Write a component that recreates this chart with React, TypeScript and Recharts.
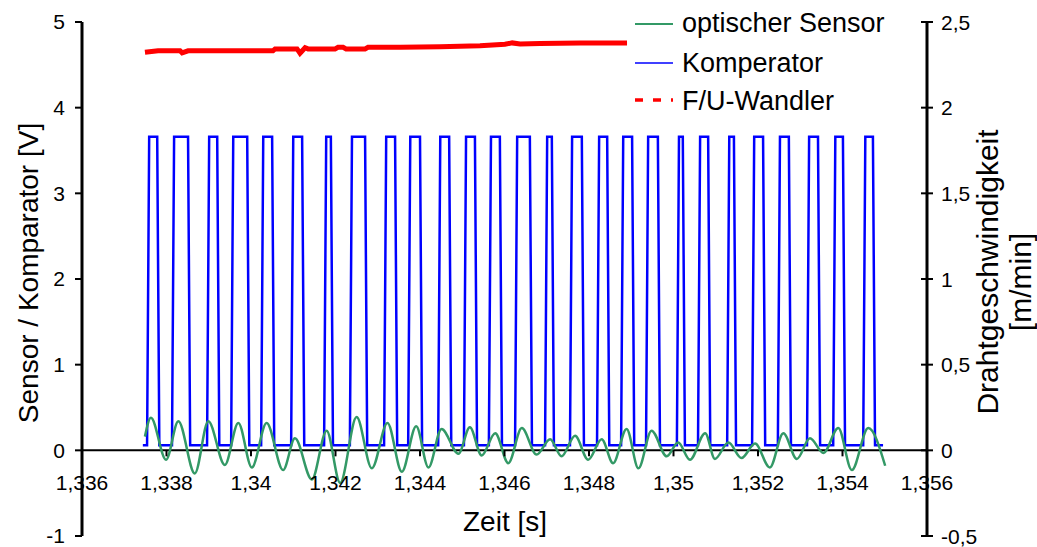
import React from 'react';
import { LineChart, Line, XAxis, YAxis, ReferenceLine, Legend, Label } from 'recharts';

const W = 1037;
const H = 547;
const FONT = "'Liberation Sans', Arial, sans-serif";

// Axis ticks
const timeTicks = [1.336, 1.338, 1.34, 1.342, 1.344, 1.346, 1.348, 1.35, 1.352, 1.354, 1.356];
const voltTicks = [-1, 0, 1, 2, 3, 4, 5];
const speedTicks = [-0.5, 0, 0.5, 1, 1.5, 2, 2.5];
const voltDomain = [-1, 5];
const speedDomain = [-0.5, 2.5];

// Series names
const seriesNames = ['optischer Sensor', 'Komperator', 'F/U-Wandler'];

// optischer Sensor (V) – extrema
const sensorTime = [
  1.33749, 1.33763, 1.33799, 1.33828, 1.33867, 1.33899, 1.33938, 1.3397, 1.34002, 1.34037,
  1.34076, 1.34104, 1.34144, 1.34179, 1.34211, 1.3425, 1.34286, 1.34323, 1.34357, 1.34391,
  1.3442, 1.34451, 1.34491, 1.34518, 1.34546, 1.34578, 1.34609, 1.34641, 1.34676, 1.34708,
  1.34735, 1.34767, 1.34798, 1.3483, 1.34857, 1.34889, 1.34917, 1.34948, 1.34984, 1.35011,
  1.35039, 1.35075, 1.35098, 1.3513, 1.35161, 1.35193, 1.35228, 1.3526, 1.35292, 1.35323,
  1.35355, 1.3539, 1.35422, 1.35461, 1.35501,
];
const sensorValue = [
  0.16, 0.38, -0.11, 0.34, -0.27, 0.34, -0.17, 0.32, -0.2, 0.32,
  -0.23, 0.14, -0.34, 0.23, -0.38, 0.39, -0.21, 0.32, -0.25, 0.28,
  -0.2, 0.25, -0.04, 0.27, -0.06, 0.2, -0.15, 0.26, -0.05, 0.13,
  -0.07, 0.17, -0.11, 0.13, -0.15, 0.25, -0.21, 0.23, -0.07, 0.09,
  -0.11, 0.2, -0.1, 0.09, -0.09, 0.08, -0.2, 0.2, -0.1, 0.14,
  -0.03, 0.26, -0.23, 0.26, -0.18,
];

// Komperator (V) – pulse edges
const komparatorStart = 1.33744;
const komparatorEnd = 1.35496;
const komparatorLow = 0.06;
const komparatorHigh = 3.66;
const komparatorRise = [
  1.33754, 1.33813, 1.33896, 1.33953, 1.34024, 1.34095, 1.34173, 1.34234, 1.34315, 1.34372,
  1.34443, 1.34504, 1.34563, 1.34625, 1.34696, 1.34755, 1.34819, 1.34876, 1.34935, 1.35008,
  1.35058, 1.35127, 1.35186, 1.35247, 1.35316, 1.35378, 1.35449,
];
const komparatorFall = [
  1.33778, 1.33851, 1.3392, 1.33991, 1.3405, 1.34121, 1.34189, 1.3427, 1.34341, 1.344,
  1.34469, 1.3453, 1.34589, 1.3466, 1.34712, 1.34783, 1.34843, 1.34902, 1.34963, 1.35022,
  1.35082, 1.35143, 1.35212, 1.35273, 1.35342, 1.35401, 1.35472,
];
const komparatorEdge = 0.00005;

// F/U-Wandler (m/min)
const wandlerTime = [
  1.33749, 1.3378, 1.33832, 1.33837, 1.33851, 1.34052, 1.34057, 1.34109, 1.34116, 1.34128,
  1.34135, 1.34199, 1.34206, 1.34218, 1.34225, 1.3427, 1.34277, 1.34353, 1.34447, 1.34542,
  1.34601, 1.34618, 1.34637, 1.34684, 1.34779, 1.3489,
];
const wandlerValue = [
  2.323, 2.332, 2.332, 2.32, 2.332, 2.332, 2.343, 2.343, 2.318, 2.35,
  2.343, 2.343, 2.352, 2.352, 2.343, 2.343, 2.352, 2.352, 2.356, 2.362,
  2.37, 2.378, 2.372, 2.375, 2.378, 2.378,
];

const sensorData = sensorTime.map((t, i) => ({ t, v: sensorValue[i] }));
const wandlerData = wandlerTime.map((t, i) => ({ t, v: wandlerValue[i] }));
const komparatorData: { t: number; v: number }[] = [{ t: komparatorStart, v: komparatorLow }];
komparatorRise.forEach((r, i) => {
  komparatorData.push(
    { t: r, v: komparatorLow },
    { t: r + komparatorEdge, v: komparatorHigh },
    { t: komparatorFall[i], v: komparatorHigh },
    { t: komparatorFall[i] + komparatorEdge, v: komparatorLow },
  );
});
komparatorData.push({ t: komparatorEnd, v: komparatorLow });

const fmt = (v: number) => String(Number(v.toFixed(4))).replace('.', ',');

const MARGIN = { top: 22, right: 0, bottom: 0, left: 0 };
const X_AXIS_H = 11;
const PLOT_TOP = MARGIN.top;
const PLOT_BOTTOM = H - MARGIN.bottom - X_AXIS_H;
const zeroY = PLOT_BOTTOM - ((PLOT_BOTTOM - PLOT_TOP) * (0 - voltDomain[0])) / (voltDomain[1] - voltDomain[0]);
const TICK_FS = 21;

const XTick = (props: any) => {
  const { x, payload } = props;
  return (
    <g>
      <line x1={x} x2={x} y1={zeroY} y2={zeroY + 6} stroke="#000" strokeWidth={2} />
      <text x={x} y={zeroY + 40} textAnchor="middle" fontSize={TICK_FS} fontFamily={FONT} fill="#000">
        {fmt(payload.value)}
      </text>
    </g>
  );
};

const RIGHT_TICK = 5;
const RIGHT_MARGIN = 9;
const RightTick = (props: any) => {
  const { x, y, payload } = props;
  const ax = x - RIGHT_TICK - RIGHT_MARGIN;
  return (
    <g>
      <line x1={ax - 6} x2={ax + 6} y1={y} y2={y} stroke="#000" strokeWidth={2} />
      <text x={x} y={y} dy="0.36em" textAnchor="start" fontSize={TICK_FS} fontFamily={FONT} fill="#000">
        {fmt(payload.value)}
      </text>
    </g>
  );
};

const LegendBox = () => (
  <svg width={310} height={120} style={{ display: 'block' }}>
    <line x1={15} x2={53} y1={24} y2={24} stroke="#339966" strokeWidth={2} />
    <line x1={15} x2={53} y1={63} y2={63} stroke="#0000ff" strokeWidth={1.5} />
    <line x1={15} x2={53} y1={100} y2={100} stroke="#ff0000" strokeWidth={3.5} strokeDasharray="8 10" />
    <text x={62} y={32} fontSize={27} fontFamily={FONT} fill="#000">{seriesNames[0]}</text>
    <text x={62} y={72} fontSize={27} fontFamily={FONT} fill="#000">{seriesNames[1]}</text>
    <text x={62} y={110} fontSize={27} fontFamily={FONT} fill="#000">{seriesNames[2]}</text>
  </svg>
);

export default function App() {
  return (
    <div style={{ position: 'absolute', left: 0, top: 0, width: W, height: H, background: '#fff' }}>
      <LineChart width={W} height={H} margin={MARGIN}>
        <XAxis
          dataKey="t"
          type="number"
          domain={[timeTicks[0], timeTicks[timeTicks.length - 1]]}
          ticks={timeTicks}
          allowDataOverflow
          height={X_AXIS_H}
          axisLine={false}
          tickLine={false}
          tickSize={0}
          tickMargin={0}
          tick={<XTick />}
          interval={0}
        >
          <Label
            content={() => (
              <text x={505} y={531} textAnchor="middle" fontSize={28} fontFamily={FONT} fill="#000">
                Zeit [s]
              </text>
            )}
          />
        </XAxis>
        <YAxis
          yAxisId="left"
          domain={voltDomain}
          ticks={voltTicks}
          width={82}
          interval={0}
          axisLine={{ stroke: '#000', strokeWidth: 3 }}
          tickLine={{ stroke: '#000', strokeWidth: 2 }}
          tickSize={7}
          tickMargin={10}
          tick={{ fill: '#000', fontSize: TICK_FS, fontFamily: FONT }}
          tickFormatter={fmt}
        >
          <Label
            content={() => (
              <text
                x={28}
                y={273}
                transform="rotate(-90, 28, 273)"
                textAnchor="middle"
                dominantBaseline="central"
                fontSize={28}
                fontFamily={FONT}
                fill="#000"
              >
                Sensor / Komparator [V]
              </text>
            )}
          />
        </YAxis>
        <YAxis
          yAxisId="right"
          orientation="right"
          domain={speedDomain}
          ticks={speedTicks}
          width={110}
          interval={0}
          axisLine={{ stroke: '#000', strokeWidth: 3 }}
          tickLine={false}
          tickSize={RIGHT_TICK}
          tickMargin={RIGHT_MARGIN}
          tick={<RightTick />}
        >
          <Label
            content={() => (
              <g>
                <text
                  x={987}
                  y={272}
                  transform="rotate(-90, 987, 272)"
                  textAnchor="middle"
                  dominantBaseline="central"
                  fontSize={30}
                  fontFamily={FONT}
                  fill="#000"
                >
                  Drahtgeschwindigkeit
                </text>
                <text
                  x={1020}
                  y={282}
                  transform="rotate(-90, 1020, 282)"
                  textAnchor="middle"
                  dominantBaseline="central"
                  fontSize={30}
                  fontFamily={FONT}
                  fill="#000"
                >
                  [m/min]
                </text>
              </g>
            )}
          />
        </YAxis>
        <ReferenceLine yAxisId="left" y={0} stroke="#000" strokeWidth={2} />
        <Line
          yAxisId="left"
          data={komparatorData}
          dataKey="v"
          name={seriesNames[1]}
          type="linear"
          stroke="#0000ff"
          strokeWidth={2.5}
          dot={false}
          isAnimationActive={false}
        />
        <Line
          yAxisId="left"
          data={sensorData}
          dataKey="v"
          name={seriesNames[0]}
          type="monotone"
          stroke="#339966"
          strokeWidth={2.5}
          dot={false}
          isAnimationActive={false}
        />
        <Line
          yAxisId="right"
          data={wandlerData}
          dataKey="v"
          name={seriesNames[2]}
          type="linear"
          stroke="#ff0000"
          strokeWidth={5}
          dot={false}
          isAnimationActive={false}
        />
        <Legend
          layout="vertical"
          align="center"
          verticalAlign="middle"
          content={() => <LegendBox />}
          wrapperStyle={{ left: 620, top: 0, width: 310, height: 120 }}
        />
      </LineChart>
    </div>
  );
}
